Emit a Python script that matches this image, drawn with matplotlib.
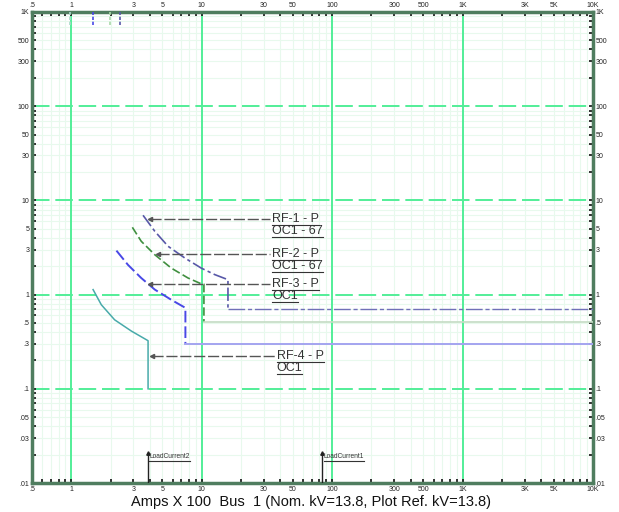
import matplotlib
matplotlib.use('Agg')
import matplotlib.pyplot as plt
from matplotlib.lines import Line2D

plt.rcParams['font.family'] = ['Liberation Sans', 'DejaVu Sans']

# relay curves: time (s) vs current (Amps x 100)
rf1_x = [3.55, 4.37, 5.52, 7.41, 9.93, 12.6, 15.9, 15.9]
rf1_y = [6.95, 4.70, 3.26, 2.45, 1.91, 1.63, 1.44, 0.71]
rf1_tail_x = [15.9, 10000]
rf1_tail_y = [0.71, 0.71]

rf2_x = [2.94, 3.44, 4.37, 5.85, 7.86, 9.93, 10.4, 10.4]
rf2_y = [5.18, 3.68, 2.65, 1.91, 1.50, 1.30, 1.29, 0.51]
rf2_tail_x = [10.4, 10000]
rf2_tail_y = [0.51, 0.51]

rf3_x = [2.22, 2.72, 3.44, 4.37, 5.85, 7.41, 7.5, 7.5]
rf3_y = [2.93, 2.07, 1.50, 1.13, 0.88, 0.73, 0.72, 0.30]
rf3_tail_x = [7.5, 10000]
rf3_tail_y = [0.30, 0.30]

rf4_x = [1.47, 1.70, 2.15, 2.89, 3.88, 3.88]
rf4_y = [1.13, 0.78, 0.54, 0.41, 0.324, 0.10]

# short stubs at the top edge (instantaneous ends)
stub_x = [2.36, 1.98, 1.48, 0.98]
stub_y0 = 730
stub_y1 = 1000

# labels and where their arrows point
labels = [('RF-1 - P', 'OC1 - 67'), ('RF-2 - P', 'OC1 - 67'),
          ('RF-3 - P', 'OC1'), ('RF-4 - P', 'OC1')]
tip_x = [4.0, 4.63, 4.04, 4.14]
tip_y = [6.4, 2.72, 1.30, 0.224]
label_x = [34.6, 34.6, 34.6, 37.6]

# load current markers
load_x = [3.86, 83.7]
load_names = ['LoadCurrent2', 'LoadCurrent1']
load_top = 0.021

x_ticklabels = {0.5: '.5', 1: '1', 3: '3', 5: '5', 10: '10', 30: '30', 50: '50',
                100: '100', 300: '300', 500: '500', 1000: '1K', 3000: '3K',
                5000: '5K', 10000: '10K'}
y_ticklabels = {1000: '1K', 500: '500', 300: '300', 100: '100', 50: '50', 30: '30',
                10: '10', 5: '5', 3: '3', 1: '1', 0.5: '.5', 0.3: '.3', 0.1: '.1',
                0.05: '.05', 0.03: '.03', 0.01: '.01'}

c1 = '#5858a8'
c2 = '#3f8f3f'
c3 = '#4848e6'
c4 = '#48aaaa'
frame = '#4f7d5f'
major = '#52ee98'
minor = '#e8f9ed'
dark = '#333333'

fig = plt.figure(figsize=(6.19, 5.12), dpi=100)
ax = fig.add_axes([32 / 619, 1 - 483 / 512, 561 / 619, 471 / 512])
ax.set_xscale('log')
ax.set_yscale('log')
ax.set_xlim(0.5, 10000)
ax.set_ylim(0.01, 1000)

# grid
for dec in [0.1, 1, 10, 100, 1000]:
    for m in range(1, 10):
        v = dec * m
        if 0.5 < v < 10000:
            if m == 1:
                ax.axvline(v, color=major, lw=1.4, zorder=1)
            else:
                ax.axvline(v, color=minor, lw=0.8, zorder=0)
for dec in [0.01, 0.1, 1, 10, 100]:
    for m in range(1, 10):
        v = dec * m
        if 0.01 < v < 1000:
            if m == 1:
                ax.axhline(v, color=major, lw=1.4, ls=(0, (9, 3)), zorder=1)
            else:
                ax.axhline(v, color=minor, lw=0.8, zorder=0)

# curves
ax.plot(rf1_x, rf1_y, color=c1, lw=1.2, ls=(0, (8, 2, 2, 2)), zorder=3)
ax.plot(rf1_tail_x, rf1_tail_y, color='#7070b8', lw=1.0, ls=(0, (12, 2, 3, 2)), zorder=3)
ax.plot(rf2_x, rf2_y, color=c2, lw=1.2, ls=(0, (5, 2)), zorder=3)
ax.plot(rf2_tail_x, rf2_tail_y, color='#c4dcc4', lw=1.2, zorder=3)
ax.plot(rf3_x, rf3_y, color=c3, lw=1.4, ls=(0, (6, 2)), zorder=3)
ax.plot(rf3_tail_x, rf3_tail_y, color='#a4a4f0', lw=1.4, zorder=3)
ax.plot(rf4_x, rf4_y, color=c4, lw=1.1, zorder=3)

for x, c in zip(stub_x, [c1, '#a8d8a8', c3, '#a8d8c8']):
    ax.plot([x, x], [stub_y0, stub_y1], color=c, lw=1.2, ls=(0, (2, 1)), zorder=3)

# label arrows
for tx, ty, lx in zip(tip_x, tip_y, label_x):
    ax.plot([tx, lx * 0.97], [ty, ty], color='#555555', lw=1.0, ls=(0, (8, 2)), zorder=4)
    ax.plot(tx, ty, marker='<', ms=3, color='#555555', zorder=4)

texts = []
for (l1, l2), lx, ty in zip(labels, label_x, tip_y):
    t1 = ax.text(lx, ty, l1, fontsize=9, color=dark, va='center', ha='left', zorder=5)
    t2 = ax.text(lx, ty * 0.745, l2, fontsize=9, color=dark, va='center', ha='left', zorder=5)
    texts += [t1, t2]

for x, name in zip(load_x, load_names):
    ax.plot([x, x], [0.01, load_top], color='#222222', lw=1.0, zorder=4)
    ax.plot(x, load_top, marker='^', ms=2.5, color='#222222', zorder=4)
    t = ax.text(x * 1.03, load_top * 0.9, name, fontsize=4.8, color=dark, va='center', ha='left', zorder=5)
    texts.append(t)

# ticks on all four sides
xt = [m * d for d in [0.1, 1, 10, 100, 1000] for m in range(1, 10) if 0.5 <= m * d <= 10000] + [10000]
yt = [m * d for d in [0.01, 0.1, 1, 10, 100] for m in range(1, 10) if 0.01 <= m * d <= 1000] + [1000]
ax.set_xticks(xt)
ax.set_xticklabels([x_ticklabels.get(round(v, 3), '') for v in xt])
ax.set_yticks(yt)
ax.set_yticklabels([y_ticklabels.get(round(v, 3), '') for v in yt])
ax.minorticks_off()
ax.tick_params(which='both', direction='in', length=3, width=1.3, color='#222222',
               labelsize=5, labelcolor='#222222', pad=2,
               top=True, right=True, labeltop=True, labelright=True)
for s in ax.spines.values():
    s.set_color(frame)
    s.set_linewidth(2.5)

fig.text(311 / 619, 1 - 502 / 512, 'Amps X 100  Bus  1 (Nom. kV=13.8, Plot Ref. kV=13.8)',
         fontsize=10.5, ha='center', va='center', color='#111111')

# underline the label texts
fig.canvas.draw()
r = fig.canvas.get_renderer()
for t in texts:
    bb = t.get_window_extent(r)
    y = bb.y0 - 0.5
    fig.add_artist(Line2D([bb.x0 / 619, bb.x1 / 619], [y / 512, y / 512],
                          color=dark, lw=0.8, transform=fig.transFigure))

fig.savefig('out.png', dpi=100)
